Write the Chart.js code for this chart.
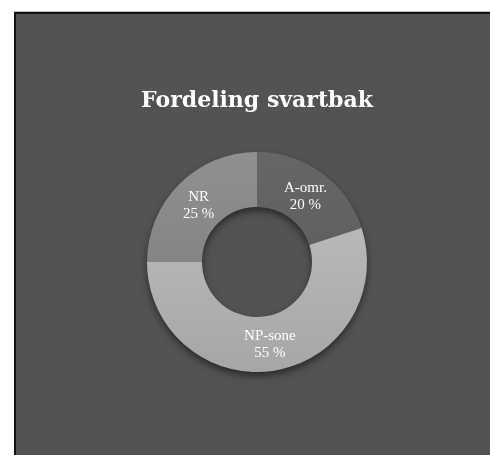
<!DOCTYPE html>
<html>
<head>
<meta charset="utf-8">
<script src="https://cdn.jsdelivr.net/npm/chart.js@4/dist/chart.umd.min.js"></script>
<style>
  html, body { margin: 0; padding: 0; background: #ffffff; }
  #frame {
    position: absolute; left: 14px; top: 12px; width: 476px; height: 443px;
    background: #535353; border-left: 2px solid #111; border-top: 2px solid #111;
    box-shadow: 0 -1px 0 #bbb;
  }
  #wrap { position: absolute; left: 1px; top: 0; width: 475px; height: 443px; }
</style>
</head>
<body>
<div id="frame"><div id="wrap"><canvas id="c"></canvas></div></div>
<script>
const titleText = 'Fordeling svartbak';
const categories = ['A-omr.', 'NP-sone', 'NR'];
const shares = [20, 55, 25];
const topColors = ['#666666', '#c2c2c2', '#909090'];
const bottomColors = ['#585858', '#a6a6a6', '#7a7a7a'];

const shadowPlugin = {
  id: 'ringShadow',
  beforeDatasetsDraw(chart) {
    const meta = chart.getDatasetMeta(0);
    const arc = meta.data[0];
    if (!arc) return;
    const { x, y, outerRadius, innerRadius } = arc.getProps(['x', 'y', 'outerRadius', 'innerRadius'], true);
    const ctx = chart.ctx;
    ctx.save();
    ctx.shadowColor = 'rgba(0,0,0,0.6)';
    ctx.shadowBlur = 8;
    ctx.shadowOffsetX = 0;
    ctx.shadowOffsetY = 4;
    ctx.fillStyle = '#535353';
    ctx.beginPath();
    ctx.arc(x, y, outerRadius - 1, 0, Math.PI * 2);
    ctx.arc(x, y, innerRadius + 1, 0, Math.PI * 2, true);
    ctx.closePath();
    ctx.fill();
    ctx.restore();
  }
};

const labelPlugin = {
  id: 'sliceLabels',
  afterDatasetsDraw(chart) {
    const ctx = chart.ctx;
    const meta = chart.getDatasetMeta(0);
    ctx.save();
    ctx.fillStyle = '#ffffff';
    ctx.font = '15px "Liberation Serif", serif';
    ctx.textAlign = 'center';
    ctx.textBaseline = 'middle';
    meta.data.forEach((arc, i) => {
      const p = arc.getCenterPoint();
      ctx.fillText(categories[i], p.x, p.y - 7);
      ctx.fillText(shares[i] + ' %', p.x, p.y + 10);
    });
    ctx.restore();
  }
};

function grad(context) {
  const chart = context.chart;
  const area = chart.chartArea;
  const i = context.dataIndex;
  if (!area) return topColors[i];
  const g = chart.ctx.createLinearGradient(0, area.top, 0, area.bottom);
  g.addColorStop(0, topColors[i]);
  g.addColorStop(1, bottomColors[i]);
  return g;
}

new Chart(document.getElementById('c'), {
  type: 'doughnut',
  data: {
    labels: categories,
    datasets: [{
      data: shares,
      backgroundColor: grad,
      borderWidth: 0,
      hoverOffset: 0
    }]
  },
  options: {
    responsive: true,
    maintainAspectRatio: false,
    animation: false,
    cutout: '50%',
    layout: { padding: { left: 20, right: 15, top: 0, bottom: 85 } },
    plugins: {
      legend: { display: false },
      tooltip: { enabled: false },
      title: {
        display: true,
        text: titleText,
        color: '#ffffff',
        font: { family: 'DejaVu Serif', size: 22, weight: 'bold' },
        padding: { top: 74, bottom: 37.6 }
      }
    }
  },
  plugins: [shadowPlugin, labelPlugin]
});
</script>
</body>
</html>
